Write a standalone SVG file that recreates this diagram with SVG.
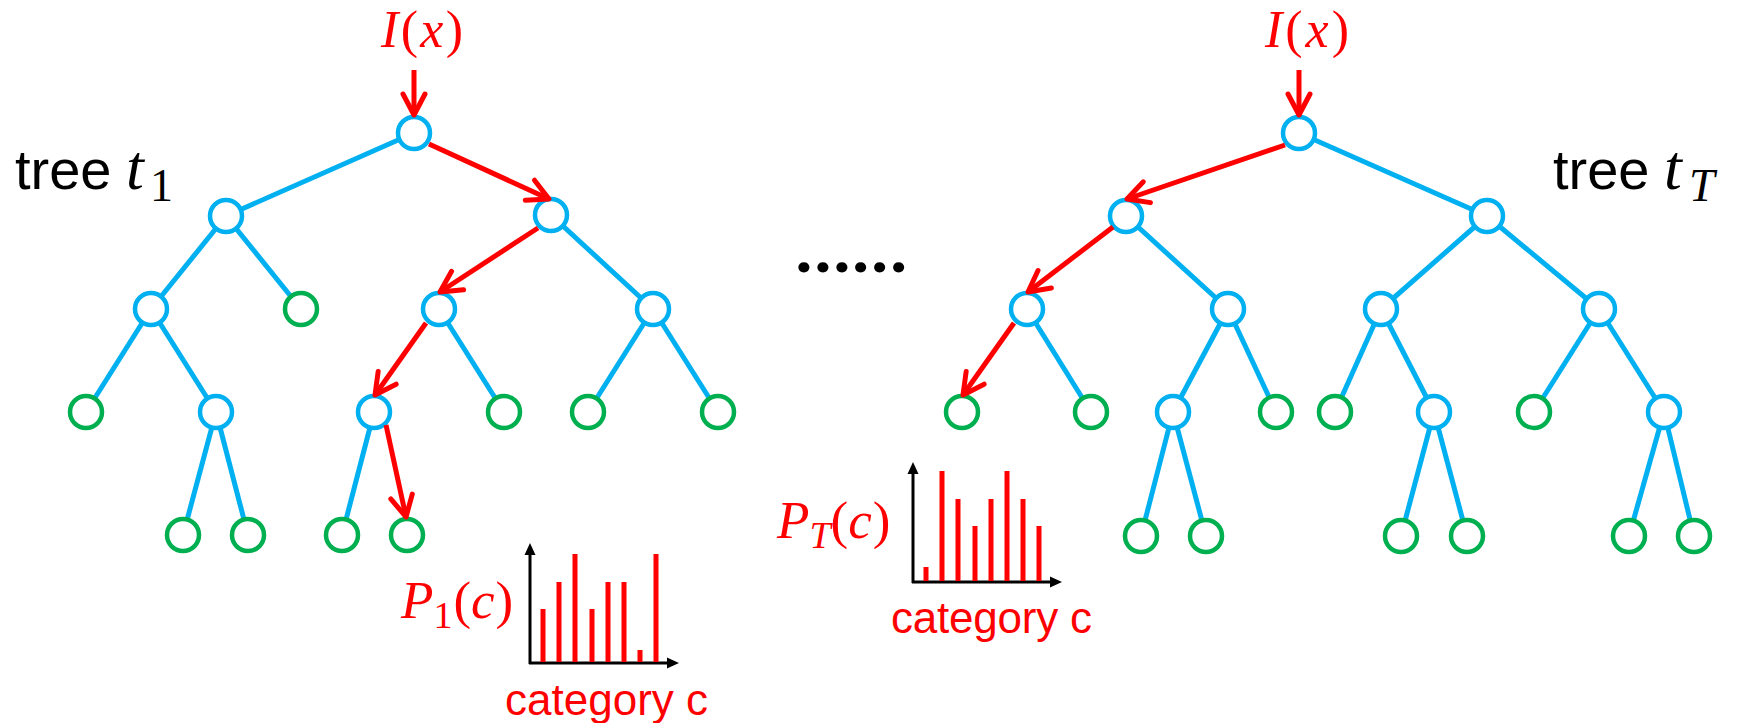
<svg xmlns="http://www.w3.org/2000/svg" width="1743" height="723" viewBox="0 0 1743 723">
<style>
.edge{stroke:#00B0F0;stroke-width:5;fill:none}
.path{stroke:#FF0000;stroke-width:5;fill:none;marker-end:url(#ra)}
.n{fill:#fff;stroke-width:4.5}
.b{stroke:#00B0F0}
.g{stroke:#00B050}
.axis{stroke:#000;stroke-width:3;fill:none;marker-end:url(#ka)}
.bar{fill:#FF0000}
.lbl{font-family:"Liberation Sans",Arial,sans-serif;fill:#000}
.math{font-family:"Liberation Serif","Times New Roman",serif;fill:#FF0000}
.mathk{font-family:"Liberation Serif","Times New Roman",serif;fill:#000}
.cat{font-family:"Liberation Sans",Arial,sans-serif;fill:#FF0000;font-size:44px}
</style>
<defs>
<marker id="ra" markerUnits="userSpaceOnUse" orient="auto" refX="0" refY="0" markerWidth="40" markerHeight="40" overflow="visible">
<path d="M -21 -11 L 0 0 L -21 11" fill="none" stroke="#FF0000" stroke-width="5" stroke-linecap="round" stroke-linejoin="round"/>
</marker>
<marker id="ka" markerUnits="userSpaceOnUse" orient="auto" refX="0" refY="0" markerWidth="20" markerHeight="20" overflow="visible">
<path d="M -5 -5.5 L 7 0 L -5 5.5 z" fill="#000"/>
</marker>
</defs>

<g id="connectors">
<!-- tree 1 blue edges -->
<line class="edge" x1="414" y1="133" x2="226" y2="216"/>
<line class="edge" x1="226" y1="216" x2="151" y2="309"/>
<line class="edge" x1="226" y1="216" x2="301" y2="309"/>
<line class="edge" x1="551" y1="215" x2="653" y2="309"/>
<line class="edge" x1="151" y1="309" x2="86" y2="412"/>
<line class="edge" x1="151" y1="309" x2="216" y2="412"/>
<line class="edge" x1="439" y1="309" x2="504" y2="412"/>
<line class="edge" x1="653" y1="309" x2="588" y2="412"/>
<line class="edge" x1="653" y1="309" x2="718" y2="412"/>
<line class="edge" x1="216" y1="412" x2="183" y2="535"/>
<line class="edge" x1="216" y1="412" x2="248" y2="535"/>
<line class="edge" x1="374" y1="412" x2="342" y2="535"/>
<!-- tree T blue edges -->
<line class="edge" x1="1299" y1="133" x2="1487" y2="216"/>
<line class="edge" x1="1126" y1="216" x2="1228" y2="309"/>
<line class="edge" x1="1487" y1="216" x2="1381" y2="309"/>
<line class="edge" x1="1487" y1="216" x2="1599" y2="309"/>
<line class="edge" x1="1027" y1="309" x2="1091" y2="412"/>
<line class="edge" x1="1228" y1="309" x2="1173" y2="412"/>
<line class="edge" x1="1228" y1="309" x2="1276" y2="412"/>
<line class="edge" x1="1381" y1="309" x2="1335" y2="412"/>
<line class="edge" x1="1381" y1="309" x2="1434" y2="412"/>
<line class="edge" x1="1599" y1="309" x2="1534" y2="412"/>
<line class="edge" x1="1599" y1="309" x2="1664" y2="412"/>
<line class="edge" x1="1173" y1="412" x2="1141" y2="536"/>
<line class="edge" x1="1173" y1="412" x2="1206" y2="536"/>
<line class="edge" x1="1434" y1="412" x2="1401" y2="536"/>
<line class="edge" x1="1434" y1="412" x2="1467" y2="536"/>
<line class="edge" x1="1664" y1="412" x2="1629" y2="536"/>
<line class="edge" x1="1664" y1="412" x2="1694" y2="536"/>
</g>

<g id="tree1">
<circle id="t1-r" class="n b" cx="414" cy="133" r="16"/>
<circle id="t1-a" class="n b" cx="226" cy="216" r="16"/>
<circle id="t1-b" class="n b" cx="551" cy="215" r="16"/>
<circle id="t1-a1" class="n b" cx="151" cy="309" r="16"/>
<circle id="t1-a2" class="n g" cx="301" cy="309" r="16"/>
<circle id="t1-b1" class="n b" cx="439" cy="309" r="16"/>
<circle id="t1-b2" class="n b" cx="653" cy="309" r="16"/>
<circle id="t1-a1a" class="n g" cx="86" cy="412" r="16"/>
<circle id="t1-a1b" class="n b" cx="216" cy="412" r="16"/>
<circle id="t1-b1a" class="n b" cx="374" cy="412" r="16"/>
<circle id="t1-b1b" class="n g" cx="504" cy="412" r="16"/>
<circle id="t1-b2a" class="n g" cx="588" cy="412" r="16"/>
<circle id="t1-b2b" class="n g" cx="718" cy="412" r="16"/>
<circle id="t1-a1b1" class="n g" cx="183" cy="535" r="16"/>
<circle id="t1-a1b2" class="n g" cx="248" cy="535" r="16"/>
<circle id="t1-b1a1" class="n g" cx="342" cy="535" r="16"/>
<circle id="t1-b1a2" class="n g" cx="407" cy="535" r="16"/>
</g>

<g id="treeT">
<circle id="tT-r" class="n b" cx="1299" cy="133" r="16"/>
<circle id="tT-a" class="n b" cx="1126" cy="216" r="16"/>
<circle id="tT-b" class="n b" cx="1487" cy="216" r="16"/>
<circle id="tT-a1" class="n b" cx="1027" cy="309" r="16"/>
<circle id="tT-a2" class="n b" cx="1228" cy="309" r="16"/>
<circle id="tT-b1" class="n b" cx="1381" cy="309" r="16"/>
<circle id="tT-b2" class="n b" cx="1599" cy="309" r="16"/>
<circle id="tT-a1a" class="n g" cx="962" cy="412" r="16"/>
<circle id="tT-a1b" class="n g" cx="1091" cy="412" r="16"/>
<circle id="tT-a2a" class="n b" cx="1173" cy="412" r="16"/>
<circle id="tT-a2b" class="n g" cx="1276" cy="412" r="16"/>
<circle id="tT-b1a" class="n g" cx="1335" cy="412" r="16"/>
<circle id="tT-b1b" class="n b" cx="1434" cy="412" r="16"/>
<circle id="tT-b2a" class="n g" cx="1534" cy="412" r="16"/>
<circle id="tT-b2b" class="n b" cx="1664" cy="412" r="16"/>
<circle id="tT-a2a1" class="n g" cx="1141" cy="536" r="16"/>
<circle id="tT-a2a2" class="n g" cx="1206" cy="536" r="16"/>
<circle id="tT-b1b1" class="n g" cx="1401" cy="536" r="16"/>
<circle id="tT-b1b2" class="n g" cx="1467" cy="536" r="16"/>
<circle id="tT-b2b1" class="n g" cx="1629" cy="536" r="16"/>
<circle id="tT-b2b2" class="n g" cx="1694" cy="536" r="16"/>
</g>

<g id="decision-paths">
<line class="path" x1="414" y1="70" x2="414" y2="115"/>
<line class="path" x1="429" y1="144" x2="549" y2="199"/>
<line class="path" x1="538" y1="228" x2="440" y2="292"/>
<line class="path" x1="426" y1="323" x2="375" y2="395"/>
<line class="path" x1="386" y1="425" x2="406" y2="517"/>
<line class="path" x1="1299" y1="70" x2="1299" y2="115"/>
<line class="path" x1="1285" y1="145" x2="1127" y2="199"/>
<line class="path" x1="1113" y1="227" x2="1028" y2="292"/>
<line class="path" x1="1014" y1="323" x2="963" y2="395"/>
</g>

<g id="labels">
<text class="math" x="381" y="47" font-size="52" textLength="82"><tspan font-style="italic">I</tspan>(<tspan font-style="italic">x</tspan>)</text>
<text class="math" x="1265" y="47" font-size="52" textLength="84"><tspan font-style="italic">I</tspan>(<tspan font-style="italic">x</tspan>)</text>
<text class="lbl" x="15" y="189" font-size="56">tree</text>
<text class="mathk" x="126" y="189" font-size="64" font-style="italic">t</text>
<text class="mathk" x="150" y="201" font-size="46">1</text>
<text class="lbl" x="1553" y="189" font-size="56">tree</text>
<text class="mathk" x="1664" y="189" font-size="64" font-style="italic">t</text>
<text class="mathk" x="1689" y="201" font-size="46" font-style="italic">T</text>
<text class="lbl" x="794" y="272" font-size="70" font-weight="bold" style="font-family:Roboto,sans-serif" textLength="115" lengthAdjust="spacing">......</text>
</g>

<g id="histogram1">
<line class="axis" x1="530" y1="664" x2="530" y2="550"/>
<line class="axis" x1="529" y1="663" x2="672" y2="663"/>
<rect class="bar" x="540.5" y="609" width="5" height="53"/>
<rect class="bar" x="556.5" y="582" width="5" height="80"/>
<rect class="bar" x="572.5" y="554" width="5" height="108"/>
<rect class="bar" x="589.5" y="609" width="5" height="53"/>
<rect class="bar" x="605.5" y="582" width="5" height="80"/>
<rect class="bar" x="621.5" y="582" width="5" height="80"/>
<rect class="bar" x="637.5" y="650" width="5" height="12"/>
<rect class="bar" x="653.5" y="554" width="5" height="108"/>
<text class="math" x="401" y="618" font-size="53"><tspan font-style="italic">P</tspan><tspan font-size="38" dy="10">1</tspan><tspan dy="-10" dx="1">(</tspan><tspan font-style="italic">c</tspan><tspan dx="1">)</tspan></text>
<text class="cat" x="505" y="715" textLength="203">category c</text>
</g>

<g id="histogramT">
<line class="axis" x1="913" y1="583" x2="913" y2="469"/>
<line class="axis" x1="912" y1="582" x2="1055" y2="582"/>
<rect class="bar" x="923.5" y="567" width="5" height="14"/>
<rect class="bar" x="939.5" y="471" width="5" height="110"/>
<rect class="bar" x="955.5" y="499" width="5" height="82"/>
<rect class="bar" x="972.5" y="526" width="5" height="55"/>
<rect class="bar" x="988.5" y="499" width="5" height="82"/>
<rect class="bar" x="1004.5" y="471" width="5" height="110"/>
<rect class="bar" x="1020.5" y="499" width="5" height="82"/>
<rect class="bar" x="1036.5" y="526" width="5" height="55"/>
<text class="math" x="777" y="538" font-size="53"><tspan font-style="italic">P</tspan><tspan font-size="38" font-style="italic" dy="10">T</tspan><tspan dy="-10" dx="0">(</tspan><tspan font-style="italic">c</tspan><tspan dx="1">)</tspan></text>
<text class="cat" x="891" y="633" textLength="201">category c</text>
</g>
</svg>
